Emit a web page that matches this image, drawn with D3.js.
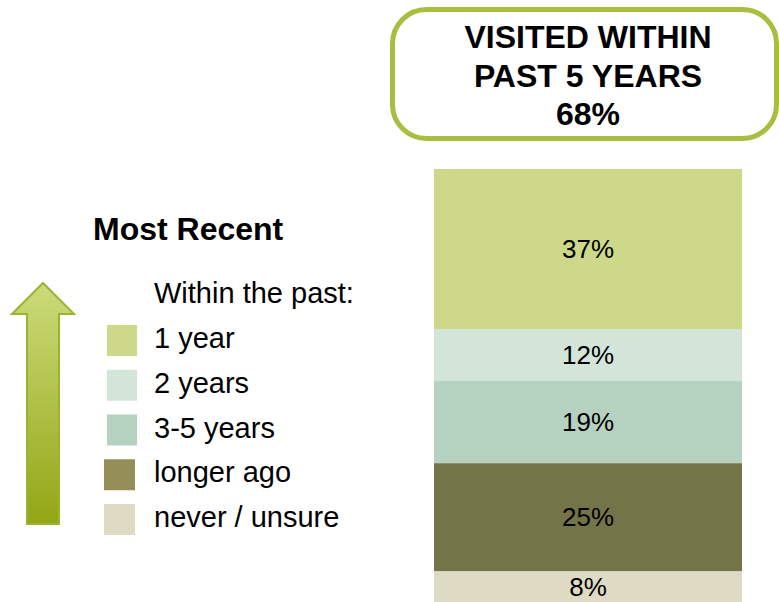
<!DOCTYPE html>
<html>
<head>
<meta charset="utf-8">
<script src="https://cdn.jsdelivr.net/npm/d3@7"></script>
<style>
  html, body { margin: 0; padding: 0; background: #fff; }
  svg { display: block; font-family: "Liberation Sans", Arial, sans-serif; }
</style>
</head>
<body>
<svg id="chart" width="779" height="602"></svg>
<script>
// Recency of last visit, share of respondents (%)
const categories = ["1 year", "2 years", "3-5 years", "longer ago", "never / unsure"];
const values = [37, 12, 19, 25, 8];
const barColors = ["#CDD889", "#D3E5D9", "#B5D2C0", "#737447", "#DFDAC4"];
const swatchColors = ["#CDD889", "#D3E5D9", "#B5D2C0", "#958E57", "#DFDAC4"];
const summaryLines = ["VISITED WITHIN", "PAST 5 YEARS", "68%"];
const legendTitle = "Most Recent";
const legendSubtitle = "Within the past:";

const svg = d3.select("#chart");

// Stack segments top to bottom
let acc = 0;
const segments = values.map((v, i) => {
  const s = { name: categories[i], value: v, y0: acc, y1: acc + v, color: barColors[i] };
  acc += v;
  return s;
});

const y = d3.scaleLinear().domain([0, d3.sum(values)]).range([169, 606]);
const x = d3.scaleBand().domain(["all"]).range([434, 742]).padding(0);

const bar = svg.append("g");
bar.selectAll("rect")
  .data(segments)
  .join("rect")
  .attr("x", x("all"))
  .attr("width", x.bandwidth())
  .attr("y", d => y(d.y0))
  .attr("height", d => y(d.y1) - y(d.y0))
  .attr("fill", d => d.color);

bar.selectAll("text")
  .data(segments)
  .join("text")
  .attr("x", x("all") + x.bandwidth() / 2)
  .attr("y", d => (y(d.y0) + Math.min(y(d.y1), 602)) / 2 + 9)
  .attr("text-anchor", "middle")
  .attr("font-size", 26)
  .attr("fill", "#000")
  .text(d => d.value + "%");

// Summary callout
svg.append("rect")
  .attr("x", 392.5).attr("y", 9.5)
  .attr("width", 384).attr("height", 129)
  .attr("rx", 34).attr("ry", 34)
  .attr("fill", "#fff")
  .attr("stroke", "#A9BD3F")
  .attr("stroke-width", 5);

svg.append("g").selectAll("text")
  .data(summaryLines)
  .join("text")
  .attr("x", 588)
  .attr("y", (d, i) => 48 + i * 38.5)
  .attr("text-anchor", "middle")
  .attr("font-size", 32)
  .attr("font-weight", "bold")
  .attr("fill", "#000")
  .text(d => d);

// Legend
svg.append("text")
  .attr("x", 93).attr("y", 240)
  .attr("font-size", 32)
  .attr("font-weight", "bold")
  .text(legendTitle);

svg.append("text")
  .attr("x", 154).attr("y", 303)
  .attr("font-size", 29)
  .text(legendSubtitle);

const legend = svg.append("g");
const rowY = d3.scalePoint().domain(categories).range([325, 504]);
legend.selectAll("rect")
  .data(categories)
  .join("rect")
  .attr("x", (d, i) => i >= 3 ? 104 : 107)
  .attr("y", d => rowY(d))
  .attr("width", (d, i) => i >= 3 ? 31 : 30)
  .attr("height", 31)
  .attr("fill", (d, i) => swatchColors[i]);

legend.selectAll("text")
  .data(categories)
  .join("text")
  .attr("x", 154)
  .attr("y", d => rowY(d) + 23)
  .attr("font-size", 29)
  .text(d => d);

// Upward arrow ("more recent")
const defs = svg.append("defs");
const grad = defs.append("linearGradient")
  .attr("id", "arrowFill")
  .attr("x1", 0).attr("y1", 0).attr("x2", 0).attr("y2", 1);
grad.append("stop").attr("offset", "0%").attr("stop-color", "#CCDB7A");
grad.append("stop").attr("offset", "100%").attr("stop-color", "#93A615");

const arrow = d3.path();
arrow.moveTo(43, 283);
arrow.lineTo(74, 314);
arrow.lineTo(59, 314);
arrow.lineTo(59, 524);
arrow.lineTo(27, 524);
arrow.lineTo(27, 314);
arrow.lineTo(12, 314);
arrow.closePath();

svg.append("path")
  .attr("d", arrow.toString())
  .attr("fill", "url(#arrowFill)")
  .attr("stroke", "#9DB232")
  .attr("stroke-width", 2)
  .attr("stroke-linejoin", "miter");
</script>
</body>
</html>
